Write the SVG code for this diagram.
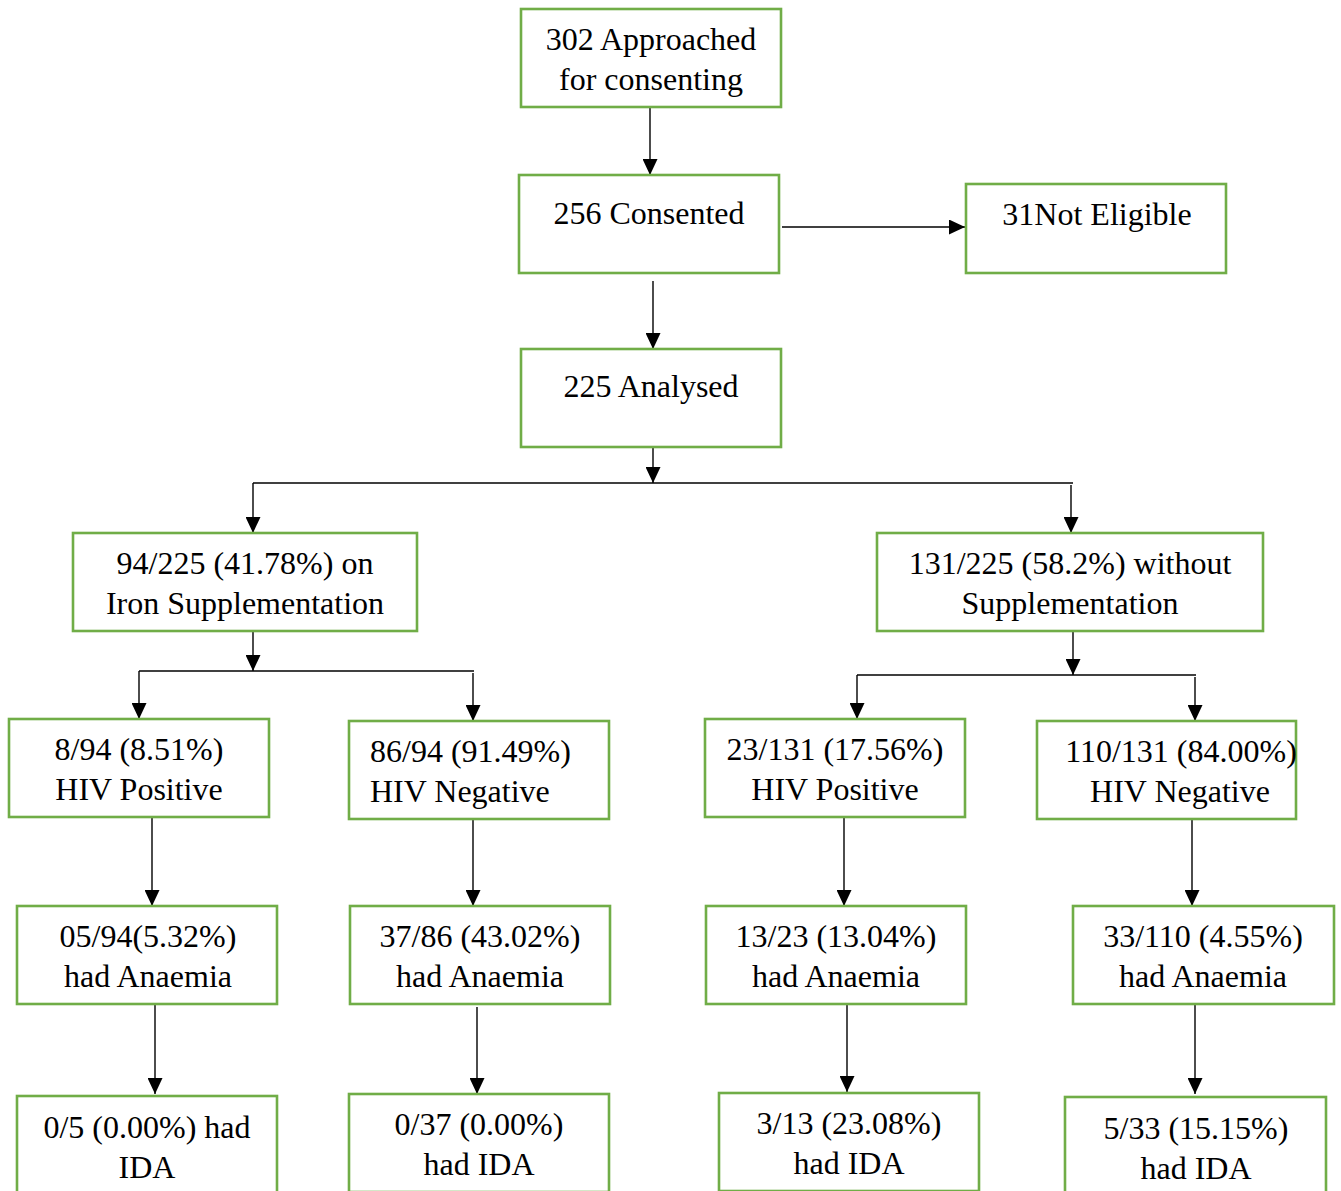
<svg xmlns="http://www.w3.org/2000/svg" width="1341" height="1191" viewBox="0 0 1341 1191">
<style>
.box{fill:#fff;stroke:#70AD47;stroke-width:2.6}
.t{font-family:"Liberation Serif","Times New Roman",serif;font-size:32px;fill:#000;text-anchor:middle}
.l{text-anchor:start}
.c{fill:none;stroke:#000;stroke-width:1.4}
</style>
<defs>
<marker id="ah" markerUnits="userSpaceOnUse" markerWidth="16" markerHeight="15" refX="16" refY="7.5" orient="auto" viewBox="0 0 16 15">
<path d="M0,0 L16,7.5 L0,15 Z" fill="#000"/>
</marker>
</defs>
<rect width="1341" height="1191" fill="#fff"/>
<g id="connectors">
<line class="c" x1="650" y1="107" x2="650" y2="175" marker-end="url(#ah)"/>
<line class="c" x1="782" y1="227" x2="965" y2="227" marker-end="url(#ah)"/>
<line class="c" x1="653" y1="281" x2="653" y2="349" marker-end="url(#ah)"/>
<line class="c" x1="653" y1="447" x2="653" y2="483" marker-end="url(#ah)"/>
<line class="c" x1="253" y1="483" x2="1073" y2="483"/>
<line class="c" x1="253" y1="483" x2="253" y2="533" marker-end="url(#ah)"/>
<line class="c" x1="1071" y1="485" x2="1071" y2="533" marker-end="url(#ah)"/>
<line class="c" x1="253" y1="631" x2="253" y2="671" marker-end="url(#ah)"/>
<line class="c" x1="139" y1="671" x2="474" y2="671"/>
<line class="c" x1="139" y1="671" x2="139" y2="719" marker-end="url(#ah)"/>
<line class="c" x1="473" y1="673" x2="473" y2="721" marker-end="url(#ah)"/>
<line class="c" x1="1073" y1="631" x2="1073" y2="675" marker-end="url(#ah)"/>
<line class="c" x1="857" y1="675" x2="1196" y2="675"/>
<line class="c" x1="857" y1="675" x2="857" y2="719" marker-end="url(#ah)"/>
<line class="c" x1="1195" y1="677" x2="1195" y2="721" marker-end="url(#ah)"/>
<line class="c" x1="152" y1="817" x2="152" y2="906" marker-end="url(#ah)"/>
<line class="c" x1="473" y1="819" x2="473" y2="906" marker-end="url(#ah)"/>
<line class="c" x1="844" y1="817" x2="844" y2="906" marker-end="url(#ah)"/>
<line class="c" x1="1192" y1="819" x2="1192" y2="906" marker-end="url(#ah)"/>
<line class="c" x1="155" y1="1004" x2="155" y2="1094" marker-end="url(#ah)"/>
<line class="c" x1="477" y1="1007" x2="477" y2="1094" marker-end="url(#ah)"/>
<line class="c" x1="847" y1="1004" x2="847" y2="1092" marker-end="url(#ah)"/>
<line class="c" x1="1195" y1="1004" x2="1195" y2="1094" marker-end="url(#ah)"/>
</g>
<g id="n1"><rect class="box" x="521" y="9" width="260" height="98"/><text class="t" x="651" y="50">302 Approached</text><text class="t" x="651" y="90">for consenting</text></g>
<g id="n2"><rect class="box" x="519" y="175" width="260" height="98"/><text class="t" x="649" y="224">256 Consented</text></g>
<g id="n3"><rect class="box" x="966" y="184" width="260" height="89"/><text class="t" x="1097" y="225">31Not Eligible</text></g>
<g id="n4"><rect class="box" x="521" y="349" width="260" height="98"/><text class="t" x="651" y="397">225 Analysed</text></g>
<g id="n5"><rect class="box" x="73" y="533" width="344" height="98"/><text class="t" x="245" y="574">94/225 (41.78%) on</text><text class="t" x="245" y="614">Iron Supplementation</text></g>
<g id="n6"><rect class="box" x="877" y="533" width="386" height="98"/><text class="t" x="1070" y="574">131/225 (58.2%) without</text><text class="t" x="1070" y="614">Supplementation</text></g>
<g id="n7"><rect class="box" x="9" y="719" width="260" height="98"/><text class="t" x="139" y="760">8/94 (8.51%)</text><text class="t" x="139" y="800">HIV Positive</text></g>
<g id="n8"><rect class="box" x="349" y="721" width="260" height="98"/><text class="t l" x="370" y="762">86/94 (91.49%)</text><text class="t l" x="370" y="802">HIV Negative</text></g>
<g id="n9"><rect class="box" x="705" y="719" width="260" height="98"/><text class="t" x="835" y="760">23/131 (17.56%)</text><text class="t" x="835" y="800">HIV Positive</text></g>
<g id="n10"><rect class="box" x="1037" y="721" width="259" height="98"/><text class="t" x="1181" y="762">110/131 (84.00%)</text><text class="t" x="1180" y="802">HIV Negative</text></g>
<g id="n11"><rect class="box" x="17" y="906" width="260" height="98"/><text class="t" x="148" y="947">05/94(5.32%)</text><text class="t" x="148" y="987">had Anaemia</text></g>
<g id="n12"><rect class="box" x="350" y="906" width="260" height="98"/><text class="t" x="480" y="947">37/86 (43.02%)</text><text class="t" x="480" y="987">had Anaemia</text></g>
<g id="n13"><rect class="box" x="706" y="906" width="260" height="98"/><text class="t" x="836" y="947">13/23 (13.04%)</text><text class="t" x="836" y="987">had Anaemia</text></g>
<g id="n14"><rect class="box" x="1073" y="906" width="261" height="98"/><text class="t" x="1203" y="947">33/110 (4.55%)</text><text class="t" x="1203" y="987">had Anaemia</text></g>
<g id="n15"><rect class="box" x="17" y="1096" width="260" height="98"/><text class="t" x="147" y="1138">0/5 (0.00%) had</text><text class="t" x="147" y="1178">IDA</text></g>
<g id="n16"><rect class="box" x="349" y="1094" width="260" height="98"/><text class="t" x="479" y="1135">0/37 (0.00%)</text><text class="t" x="479" y="1175">had IDA</text></g>
<g id="n17"><rect class="box" x="719" y="1093" width="260" height="98"/><text class="t" x="849" y="1134">3/13 (23.08%)</text><text class="t" x="849" y="1174">had IDA</text></g>
<g id="n18"><rect class="box" x="1065" y="1097" width="261" height="98"/><text class="t" x="1196" y="1139">5/33 (15.15%)</text><text class="t" x="1196" y="1179">had IDA</text></g>
</svg>
